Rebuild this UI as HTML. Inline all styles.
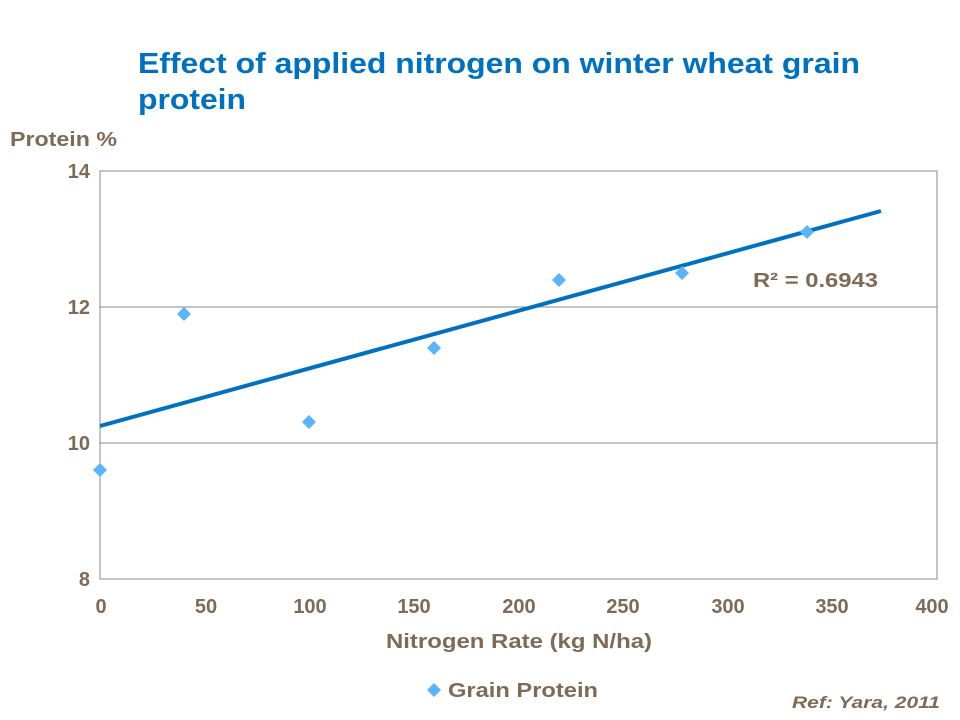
<!DOCTYPE html>
<html><head><meta charset="utf-8"><style>
html,body{margin:0;padding:0;background:#fff;width:960px;height:720px;overflow:hidden}
svg{display:block}
</style></head><body>
<svg width="960" height="720" viewBox="0 0 960 720" xmlns="http://www.w3.org/2000/svg" font-family="Liberation Sans, Arial, sans-serif">
<text x="138" y="73" font-size="29" font-weight="bold" fill="#0070C0" textLength="722" lengthAdjust="spacingAndGlyphs">Effect of applied nitrogen on winter wheat grain</text>
<text x="138" y="109" font-size="29" font-weight="bold" fill="#0070C0" textLength="108" lengthAdjust="spacingAndGlyphs">protein</text>
<text x="10" y="146" font-size="20" font-weight="bold" fill="#7F6A55" textLength="107" lengthAdjust="spacingAndGlyphs">Protein %</text>
<g stroke="#888" stroke-width="1">
<line x1="100" y1="307" x2="937" y2="307"/>
<line x1="100" y1="443" x2="937" y2="443"/>
<rect x="100" y="171" width="837" height="408" fill="none"/>
</g>
<g font-size="20" font-weight="bold" fill="#7F6A55" text-anchor="end">
<text x="90" y="178">14</text><text x="90" y="314">12</text><text x="90" y="450">10</text><text x="90" y="586">8</text>
</g>
<g font-size="20" font-weight="bold" fill="#7F6A55" text-anchor="middle">
<text x="101" y="613">0</text><text x="206" y="613">50</text><text x="310" y="613">100</text><text x="414" y="613">150</text><text x="519" y="613">200</text><text x="623" y="613">250</text><text x="728" y="613">300</text><text x="832" y="613">350</text><text x="932" y="613">400</text>
</g>
<text x="386" y="648" font-size="20" font-weight="bold" fill="#7F6A55" textLength="266" lengthAdjust="spacingAndGlyphs">Nitrogen Rate (kg N/ha)</text>
<line x1="100" y1="426" x2="881" y2="211" stroke="#0070C0" stroke-width="4"/>
<g fill="#5BB4F5">
<path d="M100 463l7 7-7 7-7-7z"/>
<path d="M184 307l7 7-7 7-7-7z"/>
<path d="M309 415l7 7-7 7-7-7z"/>
<path d="M434 341l7 7-7 7-7-7z"/>
<path d="M559 273l7 7-7 7-7-7z"/>
<path d="M682 266l7 7-7 7-7-7z"/>
<path d="M807 225l7 7-7 7-7-7z"/>
<path d="M434 683l7 7-7 7-7-7z"/>
</g>
<text x="753" y="287" font-size="20" font-weight="bold" fill="#7F6A55" textLength="125" lengthAdjust="spacingAndGlyphs">R² = 0.6943</text>
<text x="448" y="697" font-size="20" font-weight="bold" fill="#7F6A55" textLength="150" lengthAdjust="spacingAndGlyphs">Grain Protein</text>
<text x="792" y="708" font-size="17" font-weight="bold" font-style="italic" fill="#7F6A55" textLength="148" lengthAdjust="spacingAndGlyphs">Ref: Yara, 2011</text>
</svg>
</body></html>
